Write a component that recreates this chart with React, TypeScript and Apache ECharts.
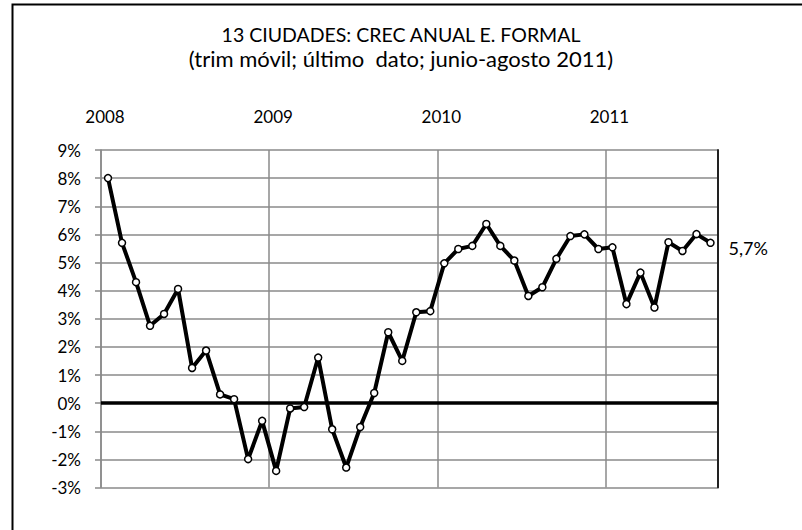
import React, { useEffect, useRef } from "react";
import * as echarts from "echarts";

const months = [
  "2008-01","2008-02","2008-03","2008-04","2008-05","2008-06","2008-07","2008-08","2008-09","2008-10","2008-11","2008-12",
  "2009-01","2009-02","2009-03","2009-04","2009-05","2009-06","2009-07","2009-08","2009-09","2009-10","2009-11","2009-12",
  "2010-01","2010-02","2010-03","2010-04","2010-05","2010-06","2010-07","2010-08","2010-09","2010-10","2010-11","2010-12",
  "2011-01","2011-02","2011-03","2011-04","2011-05","2011-06","2011-07","2011-08",
];

const growth = [
  8.0, 5.7, 4.3, 2.75, 3.17, 4.06, 1.25, 1.87, 0.31, 0.14, -1.99, -0.63,
  -2.41, -0.19, -0.14, 1.62, -0.93, -2.29, -0.85, 0.36, 2.52, 1.5, 3.23, 3.27,
  4.97, 5.48, 5.59, 6.37, 5.59, 5.07, 3.81, 4.12, 5.13, 5.94, 6.0, 5.48,
  5.54, 3.52, 4.64, 3.4, 5.72, 5.41, 6.01, 5.7,
];

const yMin = -3;
const yMax = 9;
const yStep = 1;

const titleText = "13 CIUDADES: CREC ANUAL E. FORMAL";
const subtitleText = "(trim móvil; último  dato; junio-agosto 2011)";

const FONT = "Lato";

export default function App() {
  const ref = useRef<HTMLDivElement>(null);
  useEffect(() => {
    if (!ref.current) return;
    const chart = echarts.init(ref.current, null, { renderer: "svg" });
    chart.setOption({
      animation: false,
      backgroundColor: "#ffffff",
      textStyle: { fontFamily: FONT },
      title: {
        text: `{t|${titleText}}\n{s|${subtitleText}}`,
        left: "center",
        top: 17,
        textStyle: {
          fontFamily: FONT,
          fontWeight: "normal",
          color: "#000",
          rich: {
            t: { fontFamily: FONT, fontSize: 19.5, lineHeight: 24, color: "#000" },
            s: { fontFamily: FONT, fontSize: 22, lineHeight: 24, color: "#000" },
          },
        },
      },
      graphic: [
        {
          type: "rect",
          shape: { x: 12.5, y: 4.5, width: 820, height: 560 },
          style: { fill: "none", stroke: "#000", lineWidth: 2 },
          silent: true,
        },
      ],
      grid: {
        left: 101,
        top: 150,
        right: 84.5,
        bottom: 42.5,
        show: false,
      },
      xAxis: [
        {
          type: "category",
          data: months,
          position: "bottom",
          boundaryGap: true,
          axisLine: { show: true, lineStyle: { color: "#000", width: 2 } },
          axisTick: { show: false },
          axisLabel: { show: false },
          splitLine: {
            show: true,
            interval: (i: number) => i % 12 === 0,
            lineStyle: { color: "#8a8a8a", width: 1.5 },
          },
        },
        {
          type: "category",
          data: months,
          position: "top",
          boundaryGap: true,
          axisLine: { show: false },
          axisTick: { show: false },
          axisLabel: {
            show: true,
            interval: (i: number) => i % 12 === 0,
            formatter: (v: string) => v.slice(0, 4),
            fontFamily: FONT,
            fontSize: 17,
            color: "#000",
            margin: 25,
            padding: [0, 6, 0, 0],
          },
          splitLine: { show: false },
        },
      ],
      yAxis: [
        {
          type: "value",
          min: yMin,
          max: yMax,
          interval: yStep,
          axisLine: { show: true, lineStyle: { color: "#8a8a8a", width: 1.5 } },
          axisTick: { show: true, length: 6, lineStyle: { color: "#8a8a8a", width: 1.5 } },
          axisLabel: {
            formatter: (v: number) => `${v}%`,
            fontFamily: FONT,
            fontSize: 17,
            color: "#000",
            margin: 20,
          },
          splitLine: { show: true, lineStyle: { color: "#8a8a8a", width: 1.5 } },
        },
        {
          type: "value",
          min: yMin,
          max: yMax,
          interval: yStep,
          position: "right",
          axisLine: { show: true, lineStyle: { color: "#222", width: 2 } },
          axisTick: { show: false },
          axisLabel: { show: false },
          splitLine: { show: false },
        },
      ],
      series: [
        {
          type: "line",
          data: growth,
          xAxisIndex: 0,
          yAxisIndex: 0,
          symbol: "circle",
          symbolSize: 7,
          showAllSymbol: true,
          lineStyle: { color: "#000", width: 4 },
          itemStyle: { color: "#fff", borderColor: "#000", borderWidth: 1.5 },
          z: 5,
          endLabel: {
            show: true,
            formatter: (p: any) => `${Number(p.value).toFixed(1).replace(".", ",")}%`,
            fontFamily: FONT,
            fontSize: 18,
            color: "#000",
            distance: 18,
            offset: [0, 5],
          },
          markLine: {
            silent: true,
            symbol: "none",
            label: { show: false },
            lineStyle: { color: "#000", width: 3.5, type: "solid" },
            data: [{ yAxis: 0 }],
            z: 4,
          },
        },
      ],
    });
    return () => chart.dispose();
  }, []);
  return (
    <div
      ref={ref}
      style={{ position: "fixed", left: 0, top: 0, width: 802, height: 530, background: "#fff" }}
    />
  );
}
